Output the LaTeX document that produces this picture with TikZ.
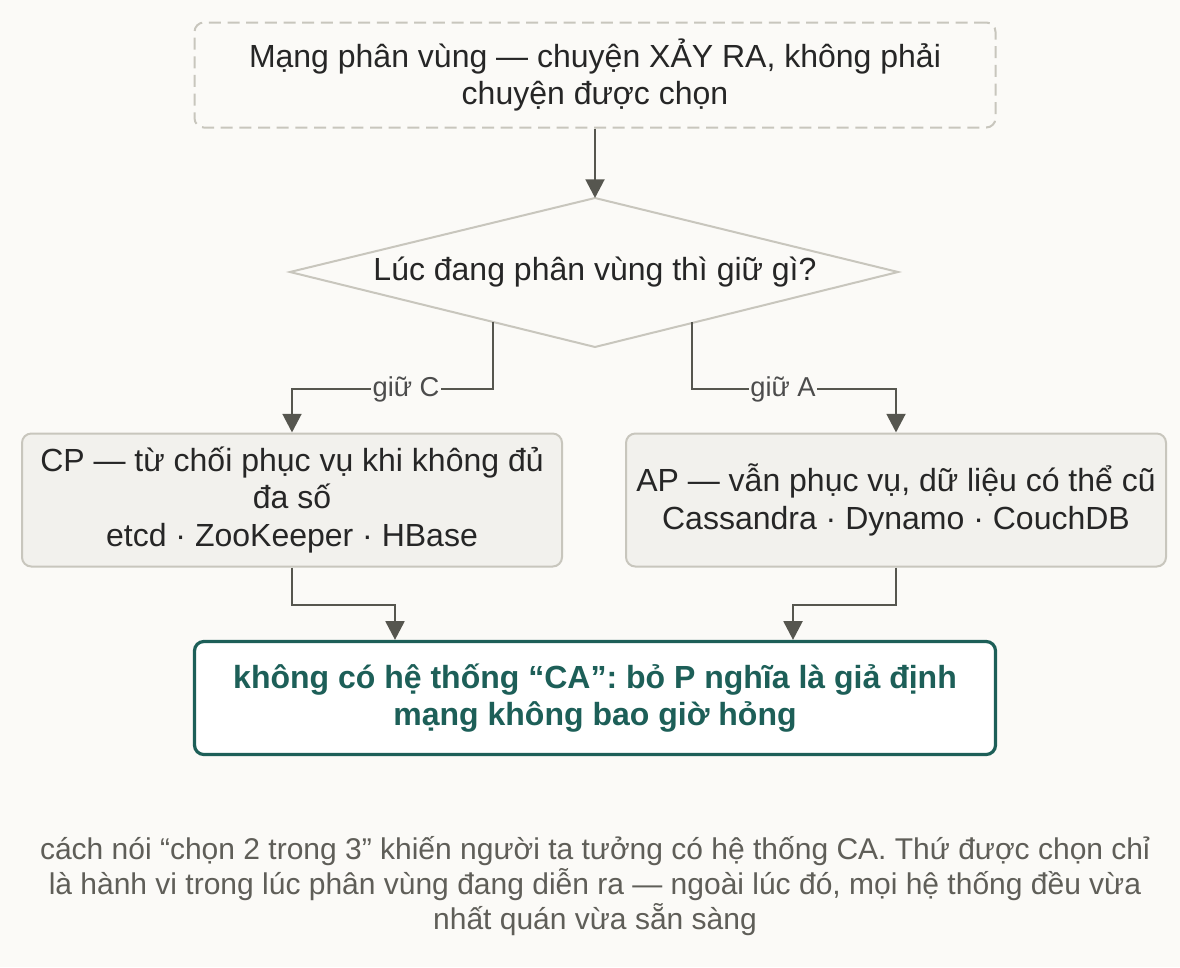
\documentclass[tikz,border=0pt]{standalone}
\usepackage{fontspec}
\setmainfont{Liberation Sans}
\usetikzlibrary{arrows.meta}
\definecolor{bgc}{HTML}{FBFAF7}
\definecolor{linec}{HTML}{56564F}
\definecolor{boxc}{HTML}{F2F1ED}
\definecolor{edgec}{HTML}{C8C6BD}
\definecolor{tealc}{HTML}{1D5F58}
\definecolor{capc}{HTML}{5F5E58}
\begin{document}
\begin{tikzpicture}[x=0.75pt,y=-0.75pt,
  txt/.style = {font=\fontsize{24}{28}\selectfont, align=center, text=black!85},
  start/.style = {txt, draw=edgec, dash pattern=on 9pt off 5pt, line width=1.5pt, rounded corners=7pt, fill=bgc, minimum width=600.75pt, minimum height=78.75pt},
  case/.style = {txt, draw=edgec, line width=1.5pt, rounded corners=7pt, fill=boxc, minimum width=405pt, minimum height=99.75pt},
  result/.style = {txt, font=\fontsize{24}{28}\selectfont\bfseries, text=tealc, draw=tealc, line width=2.4pt, rounded corners=7pt, fill=white, minimum width=600.75pt, minimum height=84.75pt},
  link/.style = {draw=linec, line width=2.2pt, -{Triangle[length=14pt,width=14pt]}},
  tag/.style = {font=\fontsize{20.5}{22}\selectfont, text=black!70, fill=bgc, inner sep=1pt}]
\fill[bgc] (0,0) rectangle (1180,967);
\useasboundingbox (0,0) rectangle (1180,967);
\node[start] (net) at (595,75) {Mạng phân vùng — chuyện XẢY RA, không phải\\chuyện được chọn};
% decision diamond
\draw[edgec, line width=1.5pt, fill=bgc] (595,198) -- (898,272) -- (595,347) -- (290,272) -- cycle;
\node[txt] (ask) at (595,272) {Lúc đang phân vùng thì giữ gì?};
\coordinate (top) at (595,198);
\coordinate (cl) at (493,322);
\coordinate (ar) at (692,322);
\node[case] (cp) at (292,500) {CP — từ chối phục vụ khi không đủ\\đa số\\etcd · ZooKeeper · HBase};
\node[case] (ap) at (896,500) {AP — vẫn phục vụ, dữ liệu có thể cũ\\Cassandra · Dynamo · CouchDB};
\node[result] (ca) at (595,698) {không có hệ thống “CA”: bỏ P nghĩa là giả định\\mạng không bao giờ hỏng};
\draw[link] (net) -- (top);
\draw[link] (cl) |- (406,389) node[tag] {giữ C} -| (cp.north);
\draw[link] (ar) |- (783,389) node[tag] {giữ A} -| (ap.north);
\draw[link] (cp.south) |- (395,605) -- (ca.north -| 395,0);
\draw[link] (ap.south) |- (793,605) -- (ca.north -| 793,0);
\node[font=\fontsize{22.5}{26}\selectfont, text=capc, align=center] (note) at (595,886) {cách nói “chọn 2 trong 3” khiến người ta tưởng có hệ thống CA. Thứ được chọn chỉ\\là hành vi trong lúc phân vùng đang diễn ra — ngoài lúc đó, mọi hệ thống đều vừa\\nhất quán vừa sẵn sàng};
\end{tikzpicture}
\end{document}
